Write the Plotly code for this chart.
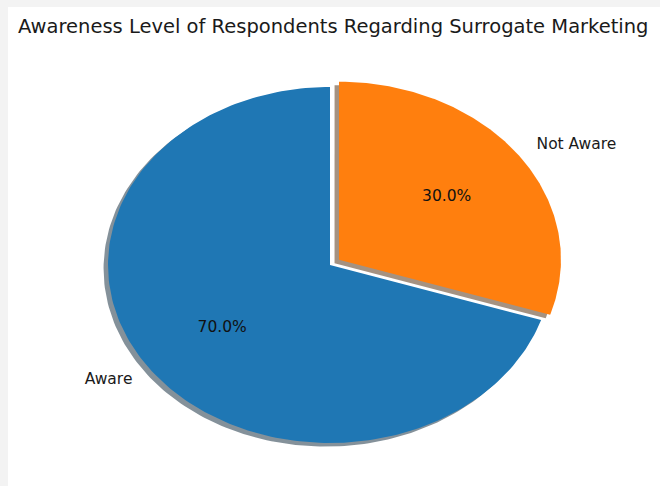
import numpy as np
import plotly.graph_objects as go

# ---- data ----
labels = ["Aware", "Not Aware"]
values = [70, 30]
colors = ["#1f77b4", "#ff7f0e"]
explode = [0.0, 0.05]

# ---- geometry (matplotlib-like pie, startangle=90, counterclockwise) ----
start_angle = 90.0
label_dist = 1.1
pct_dist = 0.6
shadow_off = (-0.02, -0.02)

W, H = 660, 486
cx_px, cy_px = 330, 265      # pie centre in pixels
rx_px, ry_px = 222, 178      # pixel size of one radius unit (elliptical, as in the reference)

fig = go.Figure()

total = float(sum(values))
theta = start_angle
wedges = []
for lab, val, col, ex in zip(labels, values, colors, explode):
    span = 360.0 * val / total
    t1, t2 = theta, theta + span
    mid = np.deg2rad((t1 + t2) / 2)
    ox, oy = ex * np.cos(mid), ex * np.sin(mid)
    ang = np.deg2rad(np.linspace(t1, t2, 200))
    xs = np.concatenate([[0], np.cos(ang), [0]]) + ox
    ys = np.concatenate([[0], np.sin(ang), [0]]) + oy
    wedges.append((lab, val, col, xs, ys, mid, ox, oy))
    theta = t2

def shade(hexcol):
    r = int(hexcol[1:3], 16) * 0.3
    g = int(hexcol[3:5], 16) * 0.3
    b = int(hexcol[5:7], 16) * 0.3
    return f"rgba({r:.0f},{g:.0f},{b:.0f},0.5)"

# shadows first (below all wedges)
for lab, val, col, xs, ys, mid, ox, oy in wedges:
    fig.add_trace(go.Scatter(x=xs + shadow_off[0], y=ys + shadow_off[1], mode="lines",
                             fill="toself", fillcolor=shade(col), line=dict(width=0),
                             hoverinfo="skip", showlegend=False))

# wedges
for lab, val, col, xs, ys, mid, ox, oy in wedges:
    fig.add_trace(go.Scatter(x=xs, y=ys, mode="lines", fill="toself", fillcolor=col,
                             line=dict(width=0), name=lab, hoverinfo="name",
                             showlegend=False))

# labels and percentages
for lab, val, col, xs, ys, mid, ox, oy in wedges:
    lx = ox + label_dist * np.cos(mid)
    ly = oy + label_dist * np.sin(mid)
    fig.add_trace(go.Scatter(x=[lx], y=[ly], mode="text", text=[lab],
                             textposition="middle right" if lx > 0 else "middle left",
                             textfont=dict(family="DejaVu Sans", size=15.5, color="#1a1a1a"),
                             hoverinfo="skip", showlegend=False))
    px_ = ox + pct_dist * np.cos(mid)
    py_ = oy + pct_dist * np.sin(mid)
    fig.add_trace(go.Scatter(x=[px_], y=[py_], mode="text",
                             text=[f"{100 * val / total:.1f}%"],
                             textposition="middle center",
                             textfont=dict(family="DejaVu Sans", size=15.5, color="#111111"),
                             hoverinfo="skip", showlegend=False))

xr = [-cx_px / rx_px, (W - cx_px) / rx_px]
yr = [-(H - cy_px) / ry_px, cy_px / ry_px]

fig.update_layout(
    width=W, height=H,
    margin=dict(l=0, r=0, t=0, b=0),
    paper_bgcolor="white", plot_bgcolor="white",
    xaxis=dict(range=xr, visible=False, fixedrange=True),
    yaxis=dict(range=yr, visible=False, fixedrange=True),
    title=dict(text="Awareness Level of Respondents Regarding Surrogate Marketing",
               x=18 / W, xanchor="left", y=1 - 26 / H, yanchor="middle",
               font=dict(family="DejaVu Sans", size=19.5, color="#1a1a1a")),
    shapes=[
        dict(type="rect", xref="paper", yref="paper", x0=0, x1=1, y0=1 - 7 / H, y1=1,
             fillcolor="#f3f3f3", line=dict(width=0), layer="below"),
        dict(type="rect", xref="paper", yref="paper", x0=0, x1=8 / W, y0=0, y1=1,
             fillcolor="#f3f3f3", line=dict(width=0), layer="below"),
    ],
)

fig.write_html("out.html", config={"displayModeBar": False},
               post_script="document.body.style.margin='0';")
